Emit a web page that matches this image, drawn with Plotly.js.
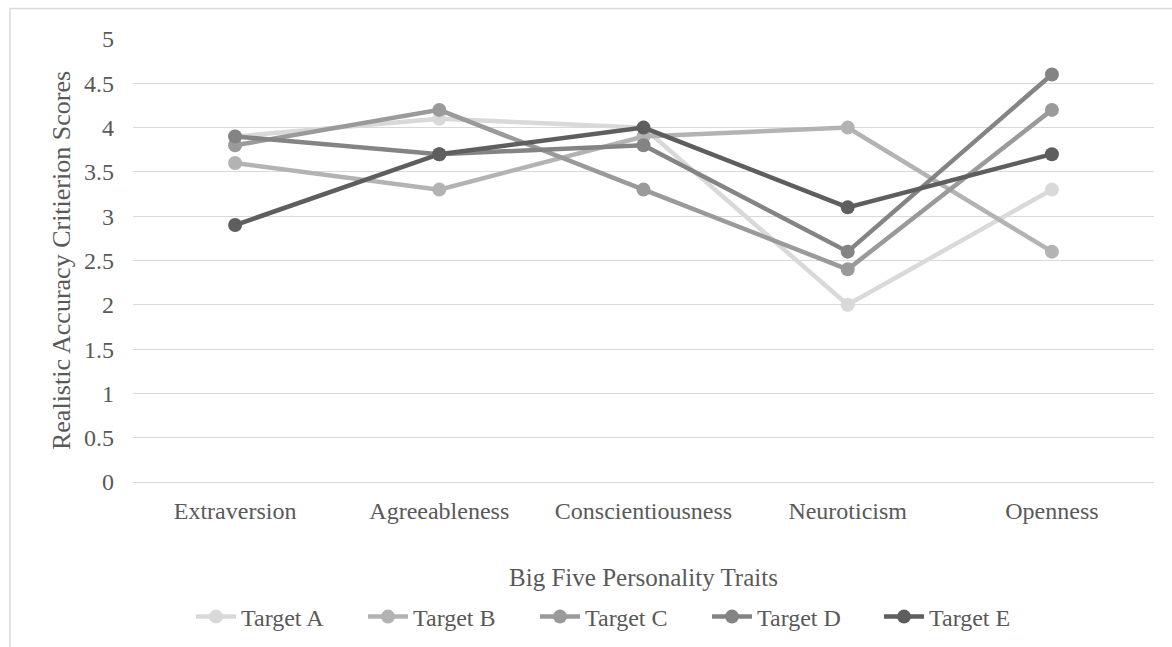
<!DOCTYPE html>
<html>
<head>
<meta charset="utf-8">
<script src="https://cdn.plot.ly/plotly-3.0.1.min.js"></script>
<style>
  html, body { margin: 0; padding: 0; background: #ffffff; }
  #chart { width: 1172px; height: 647px; }
</style>
</head>
<body>
<div id="chart"></div>
<script>
// Big Five traits on the x axis
const traits = ['Extraversion', 'Agreeableness', 'Conscientiousness', 'Neuroticism', 'Openness'];

// Realistic accuracy criterion scores per target
const targetA = [3.9, 4.1, 4.0, 2.0, 3.3];
const targetB = [3.6, 3.3, 3.9, 4.0, 2.6];
const targetC = [3.8, 4.2, 3.3, 2.4, 4.2];
const targetD = [3.9, 3.7, 3.8, 2.6, 4.6];
const targetE = [2.9, 3.7, 4.0, 3.1, 3.7];

const seriesNames = ['Target A', 'Target B', 'Target C', 'Target D', 'Target E'];
const seriesValues = [targetA, targetB, targetC, targetD, targetE];
const seriesColors = ['#d9d9d9', '#b3b3b3', '#9a9a9a', '#848484', '#5e5e5e'];

const yTicks = [0, 0.5, 1, 1.5, 2, 2.5, 3, 3.5, 4, 4.5, 5];

const textColor = '#595959';
const serif = '"Liberation Serif", "Times New Roman", serif';

const traces = seriesValues.map((vals, i) => ({
  type: 'scatter',
  mode: 'lines+markers',
  name: seriesNames[i],
  x: traits,
  y: vals,
  line: { color: seriesColors[i], width: 4.5 },
  marker: { color: seriesColors[i], size: 14 },
  hoverinfo: 'x+y+name'
}));

// plot area spans 133..1154 px horizontally, 39..482 px vertically
const W = 1172, H = 647;
const mL = 133, mR = 18, mT = 39, mB = 165;
const plotW = W - mL - mR;
const plotH = H - mT - mB;

const layout = {
  width: W,
  height: H,
  margin: { l: mL, r: mR, t: mT, b: mB },
  paper_bgcolor: '#ffffff',
  plot_bgcolor: '#ffffff',
  font: { family: serif, color: textColor, size: 24 },
  showlegend: true,
  legend: {
    orientation: 'h',
    xref: 'container',
    yref: 'container',
    x: 621 / W,
    xanchor: 'center',
    y: 1 - 617 / H,
    yanchor: 'middle',
    font: { family: serif, size: 24, color: textColor },
    entrywidth: 117,
    entrywidthmode: 'pixels',
    itemwidth: 40,
    tracegroupgap: 0
  },
  xaxis: {
    type: 'category',
    range: [-0.5, 4.5],
    showgrid: false,
    zeroline: false,
    showline: false,
    ticks: '',
    ticklabelstandoff: 12,
    tickfont: { family: serif, size: 24, color: textColor },
    title: {
      text: 'Big Five Personality Traits',
      font: { family: serif, size: 25, color: textColor },
      standoff: 45
    },
    automargin: false,
    fixedrange: true
  },
  yaxis: {
    range: [0, 5],
    tickvals: yTicks,
    ticktext: yTicks.map(v => String(v)),
    showgrid: true,
    gridcolor: '#d9d9d9',
    gridwidth: 1,
    zeroline: true,
    zerolinecolor: '#d9d9d9',
    zerolinewidth: 1,
    showline: false,
    ticks: '',
    ticklabelstandoff: 18,
    tickfont: { family: serif, size: 24, color: textColor },
    title: {
      text: 'Realistic Accuracy Critierion Scores',
      font: { family: serif, size: 26, color: textColor },
      standoff: 5
    },
    automargin: false,
    fixedrange: true
  },
  shapes: [
    {
      type: 'rect',
      xref: 'paper', yref: 'paper',
      x0: (10 - mL) / plotW, x1: (1190 - mL) / plotW,
      y0: (482 - 700) / plotH, y1: 1 + (mT - 8.5) / plotH,
      line: { color: '#d9d9d9', width: 1.5 },
      fillcolor: 'rgba(0,0,0,0)',
      layer: 'below'
    }
  ]
};

Plotly.newPlot('chart', traces, layout, { displayModeBar: false, staticPlot: true });
</script>
</body>
</html>
